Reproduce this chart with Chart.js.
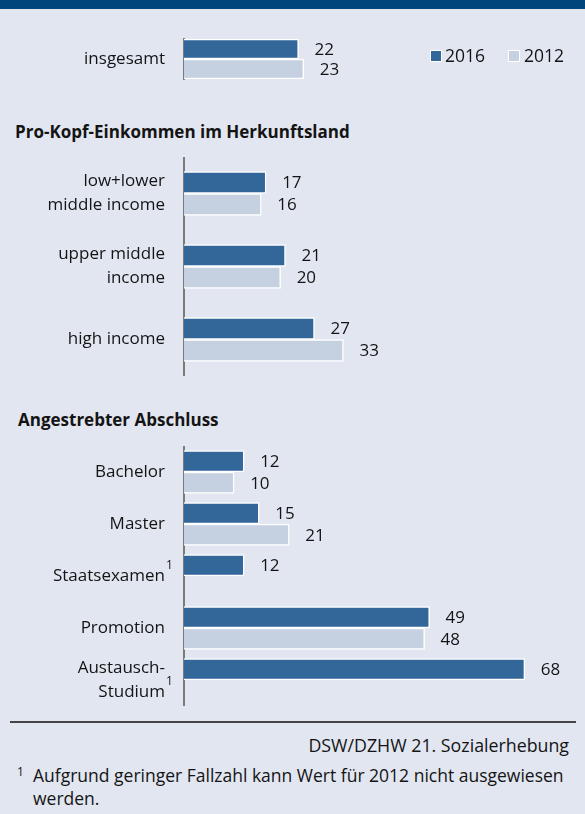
<!DOCTYPE html>
<html lang="de">
<head>
<meta charset="utf-8">
<title>Bildungsausländer nach Herkunft und Abschluss</title>
<script src="https://cdn.jsdelivr.net/npm/chart.js@4/dist/chart.umd.min.js"></script>
<style>
  body { margin: 0; background: #e2e6f1; font-family: "Open Sans", sans-serif; color: #141414; }
  #seite { position: relative; width: 585px; height: 814px; overflow: hidden; }
  #band { position: absolute; left: 0; top: 0; width: 585px; height: 9px; background: #00457c; }
  canvas { position: absolute; left: 0; }
  .titel { position: absolute; font-weight: bold; font-size: 17px; line-height: 22px; white-space: nowrap; }
  .legende { position: absolute; top: 44px; font-size: 17.5px; line-height: 22px; }
  .legende span.kasten { position: absolute; top: 6px; width: 12px; height: 12px; box-sizing: border-box; border: 1.5px solid #fff; }
  .legende span.text { position: absolute; white-space: nowrap; }
  #linie { position: absolute; left: 10px; top: 721px; width: 566px; height: 2px; background: #444; }
  #quelle { position: absolute; right: 16px; top: 734px; font-size: 17.8px; line-height: 22px; white-space: nowrap; }
  #fussnote { position: absolute; left: 33px; top: 764px; width: 548px; font-size: 17.5px; line-height: 23px; }
  #fussnoteZiffer { position: absolute; left: 17px; top: 763px; font-size: 12px; line-height: 18px; }
</style>
</head>
<body>
<div id="seite">
  <div id="band"></div>

  <canvas id="gesamt" width="585" height="42" style="top:38px"></canvas>
  <div class="legende" style="left:430px">
    <span class="kasten" style="left:0; background:#33679a"></span>
    <span class="text" style="left:15px">2016</span>
  </div>
  <div class="legende" style="left:508px">
    <span class="kasten" style="left:0; background:#c5d1e0"></span>
    <span class="text" style="left:16px">2012</span>
  </div>

  <div class="titel" style="left:15px; top:121px">Pro-Kopf-Einkommen im Herkunftsland</div>
  <canvas id="einkommen" width="585" height="219" style="top:157px"></canvas>

  <div class="titel" style="left:18px; top:409px">Angestrebter Abschluss</div>
  <canvas id="abschluss" width="585" height="260" style="top:446px"></canvas>

  <div id="linie"></div>
  <div id="quelle">DSW/DZHW 21. Sozialerhebung</div>
  <div id="fussnoteZiffer">1</div>
  <div id="fussnote">Aufgrund geringer Fallzahl kann Wert für 2012 nicht ausgewiesen werden.</div>
</div>

<script>
// Daten
const jahre = ['2016', '2012'];

const gesamtLabels = ['insgesamt'];
const gesamt2016 = [22];
const gesamt2012 = [23];

const einkommenLabels = [['low+lower', 'middle income'], ['upper middle', 'income'], 'high income'];
const einkommen2016 = [17, 21, 27];
const einkommen2012 = [16, 20, 33];

const abschlussLabels = ['Bachelor', 'Master', 'Staatsexamen', 'Promotion', ['Austausch-', 'Studium']];
const abschluss2016 = [12, 15, 12, 49, 68];
const abschluss2012 = [10, 21, null, 48, null];
const abschlussFussnote = [false, false, true, false, true];

const farbe2016 = '#33679a';
const farbe2012 = '#c5d1e0';
const textFarbe = '#141414';
const schrift = '"Open Sans", sans-serif';
const schriftGroesse = 17;
const zeilenHoehe = 1.42;
const achseX = 184;
const abstand = 19;

// Zahlen rechts neben den Balken
const wertePlugin = {
    id: 'werte',
    afterDatasetsDraw(chart) {
        const ctx = chart.ctx;
        ctx.save();
        ctx.font = schriftGroesse + 'px ' + schrift;
        ctx.fillStyle = textFarbe;
        ctx.textAlign = 'left';
        ctx.textBaseline = 'middle';
        chart.data.datasets.forEach((ds, i) => {
            chart.getDatasetMeta(i).data.forEach((bar, j) => {
                const wert = ds.data[j];
                if (wert === null || wert === undefined) return;
                ctx.fillText(wert, bar.x + 16, bar.y + 1);
            });
        });
        ctx.restore();
    }
};

// hochgestellte Fussnote hinter den Kategorien
const fussnotenPlugin = {
    id: 'fussnoten',
    afterDraw(chart, args, opts) {
        const marken = opts.marken;
        if (!marken) return;
        const skala = chart.scales.y;
        const ctx = chart.ctx;
        ctx.save();
        ctx.font = '12px ' + schrift;
        ctx.fillStyle = textFarbe;
        ctx.textAlign = 'left';
        ctx.textBaseline = 'middle';
        marken.forEach((m, i) => {
            if (!m) return;
            const label = chart.data.labels[i];
            const zeilen = Array.isArray(label) ? label.length : 1;
            const y = skala.getPixelForTick(i) + (zeilen - 1) * schriftGroesse * zeilenHoehe / 2;
            ctx.fillText('1', skala.right - abstand + 1, y - 10);
        });
        ctx.restore();
    }
};

function erstelleDiagramm(id, labels, werte2016, werte2012, xMax, dicke, fussnoten) {
    return new Chart(document.getElementById(id), {
        type: 'bar',
        data: {
            labels: labels,
            datasets: [{
                label: jahre[0],
                data: werte2016,
                backgroundColor: farbe2016,
                borderColor: '#ffffff',
                borderWidth: 1.5,
                barThickness: dicke
            }, {
                label: jahre[1],
                data: werte2012,
                backgroundColor: farbe2012,
                borderColor: '#ffffff',
                borderWidth: 1.5,
                barThickness: dicke
            }]
        },
        options: {
            indexAxis: 'y',
            responsive: false,
            animation: false,
            layout: { padding: 0 },
            plugins: {
                legend: { display: false },
                tooltip: { enabled: false },
                fussnoten: { marken: fussnoten }
            },
            scales: {
                x: { display: false, min: 0, max: xMax },
                y: {
                    z: 1,
                    grid: { display: false, drawTicks: false },
                    border: { color: '#7a7a7a', width: 2 },
                    ticks: {
                        padding: abstand,
                        color: textFarbe,
                        font: { family: schrift, size: schriftGroesse, lineHeight: zeilenHoehe }
                    },
                    afterFit: function(skala) {
                        // feste Achsenposition, kein Zusatzrand fuer mehrzeilige Labels
                        skala.width = achseX;
                        skala.paddingTop = 0;
                        skala.paddingBottom = 0;
                    }
                }
            }
        },
        plugins: [wertePlugin, fussnotenPlugin]
    });
}

erstelleDiagramm('gesamt', gesamtLabels, gesamt2016, gesamt2012, 77, 20, null);
erstelleDiagramm('einkommen', einkommenLabels, einkommen2016, einkommen2012, 83, 22, null);
erstelleDiagramm('abschluss', abschlussLabels, abschluss2016, abschluss2012, 80, 21.5, abschlussFussnote);
</script>
</body>
</html>
